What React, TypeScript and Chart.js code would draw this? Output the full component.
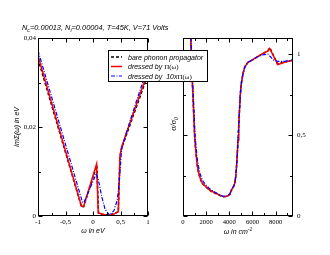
import React, { useEffect, useRef } from "react";
import { Chart, registerables } from "chart.js";
Chart.register(...registerables);

// ---- Left panel: Im Sigma(omega) in eV vs omega in eV ----
const imX_bare = [-1, -0.21, -0.17, 0.07, 0.1, 0.2, 0.3, 0.46, 0.49, 0.52, 1];
const imY_bare = [0.0353, 0.0021, 0.0021, 0.0114, 0.0006, 0.0003, 0.0002, 0.0009, 0.0133, 0.0152, 0.0318];
const imX_pi = [-1, -0.21, -0.17, 0.065, 0.095, 0.12, 0.25, 0.35, 0.46, 0.49, 0.52, 1];
const imY_pi = [0.036, 0.0022, 0.0022, 0.0117, 0.0008, 0.0006, 0.0001, 0.0002, 0.001, 0.0135, 0.0155, 0.0325];
const imX_10pi = [-1, -0.19, -0.16, 0.0, 0.06, 0.1, 0.16, 0.22, 0.3, 0.38, 0.44, 0.48, 0.52, 0.6, 0.8, 1];
const imY_10pi = [0.0372, 0.003, 0.0032, 0.0078, 0.0096, 0.008, 0.0043, 0.0015, 0.0002, 0.0012, 0.0035, 0.008, 0.015, 0.0185, 0.0262, 0.0336];
const imXTicks = [-1, -0.5, 0, 0.5, 1];
const imYTicks = [0, 0.02, 0.04];

// ---- Right panel: sigma/sigma0 vs omega in cm^-1 ----
const sgX_pi = [560, 665, 760, 863, 1008, 1110, 1212, 1330, 1444, 1560, 1677, 2000, 2307, 2700, 3000, 3450, 3800, 4050, 4177, 4350, 4467, 4540, 4603, 4680, 4750, 4820, 4894, 4960, 5040, 5180, 5330, 5610, 6000, 6340, 6800, 7340, 7480, 8200, 8780, 9500];
const sgY_pi = [1.4, 1.1, 0.9, 0.736, 0.49, 0.4, 0.325, 0.275, 0.243, 0.22, 0.2, 0.18, 0.16, 0.145, 0.135, 0.12, 0.122, 0.135, 0.16, 0.18, 0.2, 0.235, 0.284, 0.37, 0.469, 0.57, 0.675, 0.76, 0.82, 0.88, 0.92, 0.95, 0.965, 0.98, 1.0, 1.02, 1.035, 0.936, 0.95, 0.963];
const sgX_bare = [560, 665, 760, 863, 1008, 1110, 1212, 1330, 1444, 1560, 1677, 2000, 2307, 2700, 3000, 3450, 3800, 4050, 4177, 4350, 4467, 4540, 4603, 4680, 4750, 4820, 4894, 4960, 5040, 5180, 5330, 5610, 6000, 6340, 6800, 7340, 7500, 8150, 8780, 9500];
const sgY_bare = [1.4, 1.1, 0.9, 0.73, 0.485, 0.395, 0.32, 0.272, 0.24, 0.218, 0.2, 0.178, 0.158, 0.143, 0.133, 0.119, 0.121, 0.134, 0.158, 0.178, 0.2, 0.235, 0.284, 0.37, 0.469, 0.57, 0.675, 0.76, 0.82, 0.88, 0.92, 0.95, 0.965, 0.98, 1.0, 1.022, 1.04, 0.94, 0.952, 0.964];
const sgX_10pi = [580, 690, 790, 900, 1040, 1150, 1250, 1370, 1480, 1600, 1720, 2000, 2307, 2700, 3000, 3450, 3800, 4050, 4177, 4350, 4467, 4540, 4603, 4680, 4750, 4820, 4894, 4960, 5040, 5180, 5330, 5610, 6000, 6340, 6800, 7340, 7800, 8200, 8780, 9500];
const sgY_10pi = [1.4, 1.1, 0.9, 0.736, 0.5, 0.41, 0.345, 0.295, 0.26, 0.235, 0.215, 0.19, 0.168, 0.15, 0.138, 0.122, 0.125, 0.138, 0.162, 0.182, 0.202, 0.237, 0.286, 0.37, 0.469, 0.57, 0.675, 0.76, 0.82, 0.88, 0.92, 0.95, 0.965, 0.98, 0.995, 1.0, 0.965, 0.955, 0.956, 0.963];
const sgXTicks = [0, 2000, 4000, 6000, 8000];
const sgYTicks = [0, 0.5, 1];

const legendLabels = ["bare phonon propagator", "dressed by ", "dressed by  10x"];

const W = 330;
const H = 255;
const SERIF = "'Liberation Serif', 'DejaVu Serif', serif";
const SANS = "'Liberation Sans', Arial, sans-serif";

const pts = (xs: number[], ys: number[]) => xs.map((x, i) => ({ x, y: ys[i] }));
const fmt = (v: number) => {
  const r = Math.round(v * 10000) / 10000;
  return String(r).replace(".", ",");
};
const setTicks = (vals: number[]) => (s: any) => {
  s.ticks = vals.map((v) => ({ value: v }));
};

const RED = "#ff0000";
const BLUE = "#0000ff";
const BLACK = "#000000";

function ds(label: string, data: any[], color: string, dash: number[], width: number) {
  return {
    label,
    data,
    borderColor: color,
    backgroundColor: color,
    borderWidth: width,
    borderDash: dash,
    pointRadius: 0,
    tension: 0,
    fill: false,
  };
}

type Piece = { t: string; font: string; dy?: number };
function drawRich(ctx: CanvasRenderingContext2D, pieces: Piece[], x: number, y: number, align: "left" | "center") {
  let total = 0;
  for (const p of pieces) {
    ctx.font = p.font;
    total += ctx.measureText(p.t).width;
  }
  let cx = align === "center" ? x - total / 2 : x;
  ctx.textAlign = "left";
  ctx.textBaseline = "alphabetic";
  for (const p of pieces) {
    ctx.font = p.font;
    ctx.fillText(p.t, cx, y + (p.dy || 0));
    cx += ctx.measureText(p.t).width;
  }
}

function framePlugin(xMinor: number, xMajor: number, yMinor: number, yMajor: number) {
  return {
    id: "frameTicks",
    afterDatasetsDraw(chart: any) {
      const { ctx, chartArea: a, scales } = chart;
      const xs = scales.x;
      const ys = scales.y;
      ctx.save();
      ctx.strokeStyle = "#000";
      ctx.lineWidth = 1;
      const L = Math.round(a.left) + 0.5;
      const R = Math.round(a.right) - 0.5;
      const T = Math.round(a.top) + 0.5;
      const B = Math.round(a.bottom) - 0.5;
      ctx.strokeRect(L, T, R - L, B - T);
      ctx.beginPath();
      const nx = Math.floor((xs.max - xs.min) / xMinor + 1e-6);
      for (let i = 0; i <= nx; i++) {
        const v = xs.min + i * xMinor;
        const ratio = v / xMajor;
        const major = Math.abs(ratio - Math.round(ratio)) < 1e-6;
        const len = major ? 4 : 2.5;
        const px = Math.round(xs.getPixelForValue(v)) + 0.5;
        ctx.moveTo(px, B);
        ctx.lineTo(px, B - len);
        ctx.moveTo(px, T);
        ctx.lineTo(px, T + len);
      }
      const ny = Math.floor((ys.max - ys.min) / yMinor + 1e-6);
      for (let i = 0; i <= ny; i++) {
        const v = ys.min + i * yMinor;
        const ratio = v / yMajor;
        const major = Math.abs(ratio - Math.round(ratio)) < 1e-6;
        const len = major ? 4 : 2.5;
        const py = Math.round(ys.getPixelForValue(v)) + 0.5;
        ctx.moveTo(L, py);
        ctx.lineTo(L + len, py);
        ctx.moveTo(R, py);
        ctx.lineTo(R - len, py);
      }
      ctx.stroke();
      ctx.restore();
    },
  };
}

const tickFont = { family: SERIF, size: 7 };

const overlayPlugin = {
  id: "overlay",
  afterDraw(chart: any) {
    const ctx: CanvasRenderingContext2D = chart.ctx;
    ctx.save();
    ctx.fillStyle = "#000";
    // Title
    const f8 = `italic 7.4px ${SANS}`;
    const f6 = `italic 5.2px ${SANS}`;
    drawRich(
      ctx,
      [
        { t: "N", font: f8 },
        { t: "c", font: f6, dy: 2 },
        { t: "=0.00013, N", font: f8 },
        { t: "i", font: f6, dy: 2 },
        { t: "=0.00004, T=45K, V=71 Volts", font: f8 },
      ],
      22,
      30,
      "left"
    );
    // axis titles
    const f7 = `italic 7px ${SANS}`;
    drawRich(ctx, [{ t: "ω in eV", font: f7 }], 93, 233, "center");
    drawRich(
      ctx,
      [
        { t: "ω in cm", font: f7 },
        { t: "-1", font: `italic 5px ${SANS}`, dy: -3 },
      ],
      238,
      234,
      "center"
    );
    ctx.save();
    ctx.translate(19, 127);
    ctx.rotate(-Math.PI / 2);
    drawRich(ctx, [{ t: "ImΣ(ω) in eV", font: f7 }], 0, 0, "center");
    ctx.restore();
    ctx.save();
    ctx.translate(176, 124);
    ctx.rotate(-Math.PI / 2);
    drawRich(
      ctx,
      [
        { t: "σ/σ", font: `italic 8.5px ${SERIF}` },
        { t: "0", font: `italic 5.5px ${SERIF}`, dy: 2 },
      ],
      0,
      0,
      "center"
    );
    ctx.restore();

    // Legend
    const bx = 108.5, by = 50.5, bw = 99, bh = 31;
    ctx.fillStyle = "#fff";
    ctx.fillRect(bx, by, bw, bh);
    ctx.strokeStyle = "#000";
    ctx.lineWidth = 1;
    ctx.strokeRect(bx, by, bw, bh);
    const rows = [57, 66.5, 76];
    const styles = [
      { c: BLACK, d: [3, 2], w: 1.5 },
      { c: RED, d: [], w: 1.5 },
      { c: BLUE, d: [4, 1.5, 1, 1.5], w: 1.2 },
    ];
    rows.forEach((ry, i) => {
      ctx.beginPath();
      ctx.strokeStyle = styles[i].c;
      ctx.lineWidth = styles[i].w;
      ctx.setLineDash(styles[i].d);
      ctx.moveTo(111, ry);
      ctx.lineTo(122, ry);
      ctx.stroke();
    });
    ctx.setLineDash([]);
    ctx.fillStyle = "#000";
    const lf = `italic 7px ${SANS}`;
    const pf = `7px ${SERIF}`;
    drawRich(ctx, [{ t: legendLabels[0], font: lf }], 128, rows[0] + 2.5, "left");
    drawRich(ctx, [{ t: legendLabels[1], font: lf }, { t: "Π(ω)", font: pf }], 128, rows[1] + 2.5, "left");
    drawRich(ctx, [{ t: legendLabels[2], font: lf }, { t: "Π(ω)", font: pf }], 128, rows[2] + 2.5, "left");
    ctx.restore();
  },
};

export default function App() {
  const leftRef = useRef<HTMLCanvasElement>(null);
  const rightRef = useRef<HTMLCanvasElement>(null);

  useEffect(() => {
    const left = new Chart(leftRef.current!, {
      type: "line",
      data: {
        datasets: [
          ds(legendLabels[2], pts(imX_10pi, imY_10pi), BLUE, [4, 1.5, 1, 1.5], 1.2),
          ds(legendLabels[1], pts(imX_pi, imY_pi), RED, [], 1.5),
          ds(legendLabels[0], pts(imX_bare, imY_bare), BLACK, [3, 2], 1.5),
        ],
      },
      options: {
        responsive: false,
        animation: false,
        events: [],
        layout: { padding: { left: 0, top: 38, right: 182, bottom: 0 } },
        plugins: { legend: { display: false }, tooltip: { enabled: false }, title: { display: false } },
        scales: {
          x: {
            type: "linear",
            min: -1,
            max: 1,
            grid: { display: false, drawTicks: false },
            border: { display: false },
            afterBuildTicks: setTicks(imXTicks),
            ticks: { font: tickFont, color: "#000", padding: 2, maxRotation: 0, autoSkip: false, callback: (v: any) => fmt(Number(v)) },
            afterFit: (s: any) => { s.height = 39; },
          },
          y: {
            type: "linear",
            min: 0,
            max: 0.04,
            grid: { display: false, drawTicks: false },
            border: { display: false },
            afterBuildTicks: setTicks(imYTicks),
            ticks: { font: tickFont, color: "#000", padding: 2, autoSkip: false, callback: (v: any) => fmt(Number(v)) },
            afterFit: (s: any) => { s.width = 38; },
          },
        },
      } as any,
      plugins: [framePlugin(0.25, 0.5, 0.01, 0.02)],
    });

    const right = new Chart(rightRef.current!, {
      type: "line",
      data: {
        datasets: [
          ds(legendLabels[2], pts(sgX_10pi, sgY_10pi), BLUE, [4, 1.5, 1, 1.5], 1.2),
          ds(legendLabels[1], pts(sgX_pi, sgY_pi), RED, [], 1.5),
          ds(legendLabels[0], pts(sgX_bare, sgY_bare), BLACK, [3, 2], 1.5),
        ],
      },
      options: {
        responsive: false,
        animation: false,
        events: [],
        layout: { padding: { left: 183, top: 38, right: 0, bottom: 0 } },
        plugins: { legend: { display: false }, tooltip: { enabled: false }, title: { display: false } },
        scales: {
          x: {
            type: "linear",
            min: 0,
            max: 9500,
            grid: { display: false, drawTicks: false },
            border: { display: false },
            afterBuildTicks: setTicks(sgXTicks),
            ticks: { font: { family: SERIF, size: 6.6 }, color: "#000", padding: 2, maxRotation: 0, autoSkip: false, callback: (v: any) => fmt(Number(v)) },
            afterFit: (s: any) => { s.height = 39; },
          },
          y: {
            type: "linear",
            position: "right",
            min: 0,
            max: 1.1,
            grid: { display: false, drawTicks: false },
            border: { display: false },
            afterBuildTicks: setTicks(sgYTicks),
            ticks: { font: tickFont, color: "#000", padding: 4, autoSkip: false, callback: (v: any) => fmt(Number(v)) },
            afterFit: (s: any) => { s.width = 37; },
          },
        },
      } as any,
      plugins: [framePlugin(1000, 2000, 0.25, 0.5), overlayPlugin],
    });

    return () => {
      left.destroy();
      right.destroy();
    };
  }, []);

  const cs: React.CSSProperties = { position: "absolute", left: 0, top: 0, width: W, height: H };
  return (
    <div style={{ position: "fixed", left: 0, top: 0, width: W, height: H, background: "#fff" }}>
      <canvas ref={leftRef} width={W} height={H} style={cs} />
      <canvas ref={rightRef} width={W} height={H} style={cs} />
    </div>
  );
}
